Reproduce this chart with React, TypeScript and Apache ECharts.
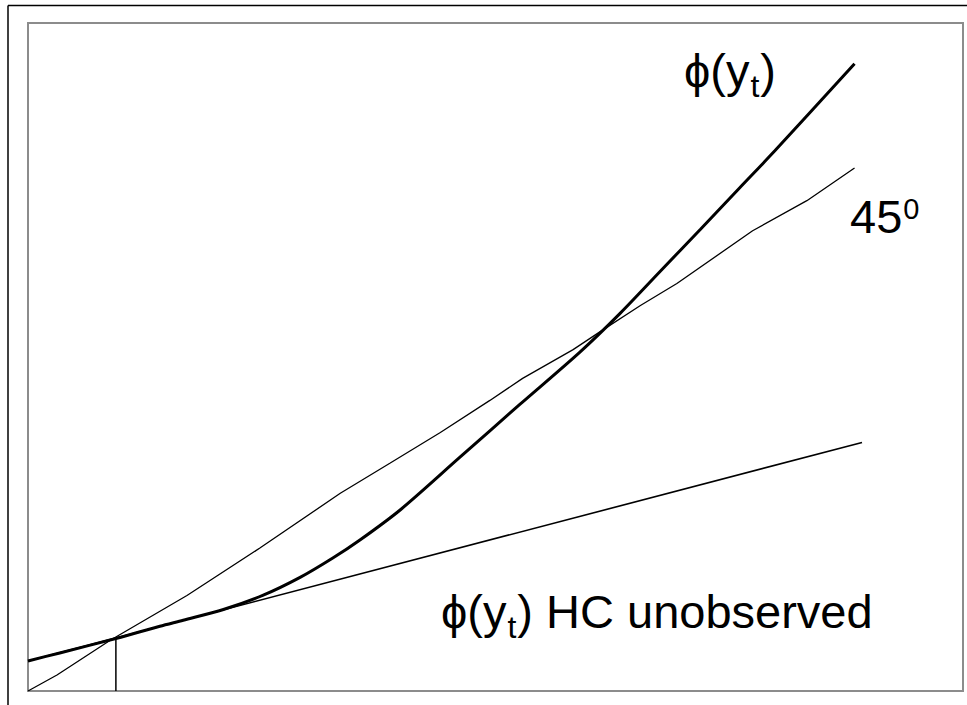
import React, { useEffect, useRef } from "react";
import * as echarts from "echarts";

// Diagonal (45 degree) reference line
const diagonalX = [0, 3.1, 8.8, 17.0, 24.8, 33.4, 38.7, 44.1, 49.4, 52.9, 58.3, 61.2, 65.5, 69.4, 77.5, 83.3, 88.4];
const diagonalY = [0, 2.4, 7.6, 14.3, 21.4, 29.6, 34.1, 38.7, 43.5, 46.8, 51.1, 53.8, 57.7, 61.0, 68.9, 73.4, 78.3];

// phi(y_t) when HC is unobserved: a straight line
const hcX = [0, 89.2];
const hcY = [4.5, 37.2];

// phi(y_t): follows the HC line at first, then bends upward
const phiX = [0, 3.4, 9.5, 14.1, 16.6, 20.9, 25.1, 29.1, 32.6, 35.5, 39.8, 46.2, 52.6, 59.0, 63.3, 67.6, 71.9, 76.1, 79.9, 88.4];
const phiY = [4.5, 5.7, 7.9, 9.7, 10.6, 12.2, 14.3, 17.0, 19.9, 22.6, 27.1, 35.0, 42.9, 50.7, 56.5, 62.8, 69.1, 75.3, 80.9, 93.9];

// Drop line from the low crossing point to the horizontal axis
const dropX = [9.4, 9.4];
const dropY = [0, 7.8];

const zip = (xs: number[], ys: number[]) => xs.map((x, i) => [x, ys[i]]);

const FONT = "'Liberation Sans', Arial, 'DejaVu Sans', sans-serif";
const PHI = "\u03d5";

type Piece = { text: string; size: number; dy: number };

let measureCtx: CanvasRenderingContext2D | null = null;
function textWidth(text: string, size: number) {
  if (!measureCtx) measureCtx = document.createElement("canvas").getContext("2d");
  if (!measureCtx) return text.length * size * 0.55;
  measureCtx.font = `${size}px ${FONT}`;
  return measureCtx.measureText(text).width;
}

// Lays out a label made of normal-size and subscript/superscript pieces
function label(pieces: Piece[], x: number, y: number) {
  let cx = x;
  return pieces.map((p) => {
    const el = {
      type: "text",
      x: cx,
      y: y + p.dy,
      z: 10,
      style: {
        text: p.text,
        fontSize: p.size,
        fontFamily: FONT,
        fill: "#000",
        textAlign: "left",
        textVerticalAlign: "middle",
      },
    };
    cx += textWidth(p.text, p.size) + 1;
    return el;
  });
}

export default function App() {
  const ref = useRef<HTMLDivElement>(null);

  useEffect(() => {
    if (!ref.current) return;
    const chart = echarts.init(ref.current, undefined, { renderer: "svg" });
    const thin = (w: number) => ({ color: "#000", width: w });
    const hidden = {
      type: "value",
      min: 0,
      max: 100,
      axisLine: { show: false },
      axisTick: { show: false },
      axisLabel: { show: false },
      splitLine: { show: false },
    };
    chart.setOption({
      animation: false,
      backgroundColor: "#fff",
      grid: {
        left: 28,
        top: 23,
        right: 4,
        bottom: 14,
        show: true,
        borderColor: "#8c8c8c",
        borderWidth: 2,
        backgroundColor: "#fff",
      },
      xAxis: hidden,
      yAxis: hidden,
      series: [
        {
          type: "line",
          data: zip(diagonalX, diagonalY),
          showSymbol: false,
          lineStyle: thin(1.3),
        },
        {
          type: "line",
          data: zip(hcX, hcY),
          showSymbol: false,
          lineStyle: thin(1.6),
        },
        {
          type: "line",
          data: zip(phiX, phiY),
          showSymbol: false,
          smooth: 0.3,
          lineStyle: thin(3),
        },
        {
          type: "line",
          data: zip(dropX, dropY),
          showSymbol: false,
          lineStyle: thin(1.5),
        },
      ],
      graphic: [
        {
          type: "line",
          shape: { x1: 8, y1: 5.5, x2: 967, y2: 5.5 },
          style: { stroke: "#000", lineWidth: 1.5 },
        },
        {
          type: "line",
          shape: { x1: 8, y1: 5.5, x2: 8, y2: 705 },
          style: { stroke: "#000", lineWidth: 1.5 },
        },
        ...label(
          [
            { text: PHI + "(y", size: 47, dy: 0 },
            { text: "t", size: 32, dy: 16 },
            { text: ")", size: 47, dy: 0 },
          ],
          684,
          70
        ),
        ...label(
          [
            { text: "45", size: 47, dy: 0 },
            { text: "0", size: 29, dy: -7 },
          ],
          850,
          216
        ),
        ...label(
          [
            { text: PHI + "(y", size: 47, dy: 0 },
            { text: "t", size: 32, dy: 16 },
            { text: ") HC unobserved", size: 47, dy: 0 },
          ],
          441,
          611
        ),
      ],
    });
    return () => chart.dispose();
  }, []);

  return (
    <div
      ref={ref}
      style={{ position: "fixed", left: 0, top: 0, width: 967, height: 705 }}
    />
  );
}
